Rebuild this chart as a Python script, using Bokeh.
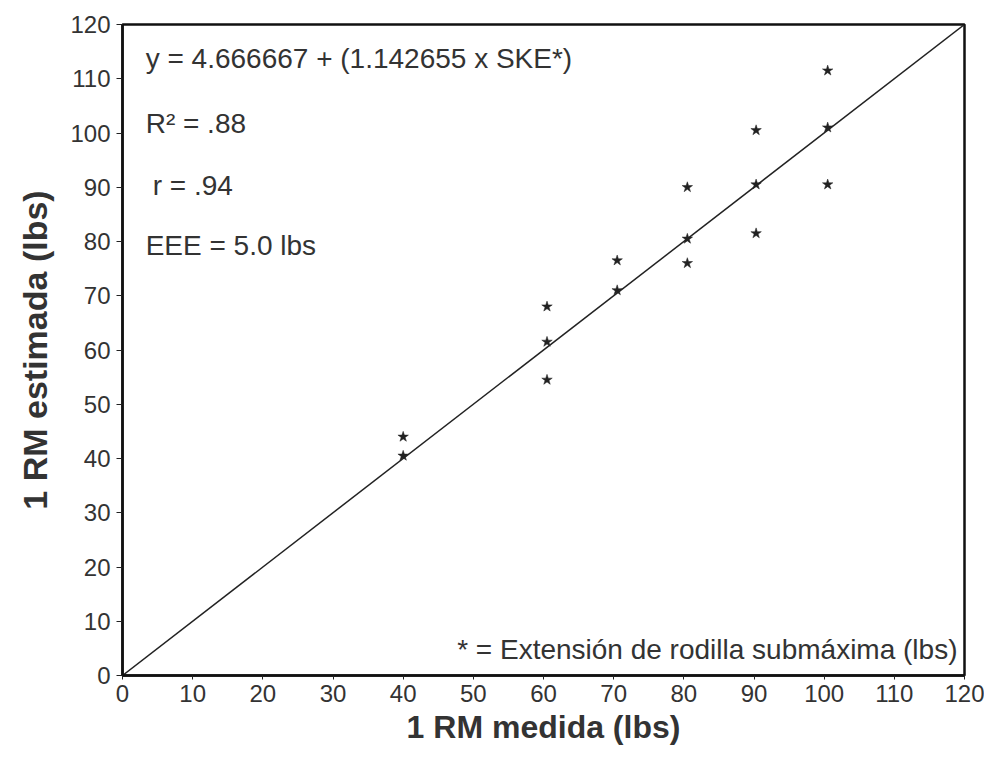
from bokeh.plotting import figure
from bokeh.models import Range1d, FixedTicker, ColumnDataSource, Label
from bokeh.embed import file_html
from bokeh.resources import INLINE

# Data
measured = [40, 40, 60.5, 60.5, 60.5, 70.5, 70.5, 80.5, 80.5, 80.5, 90.3, 90.3, 90.3, 100.5, 100.5, 100.5]
estimated = [44, 40.5, 68, 61.5, 54.5, 76.5, 71, 90, 80.5, 76, 100.5, 90.5, 81.5, 111.5, 101, 90.5]
identity_x = [0, 120]
identity_y = [0, 120]
ticks = [0, 10, 20, 30, 40, 50, 60, 70, 80, 90, 100, 110, 120]

FONT = "Liberation Sans"
TXT = "#333333"

p = figure(width=984, height=747, output_backend="svg", toolbar_location=None,
           x_range=Range1d(0, 120), y_range=Range1d(0, 120),
           min_border_left=122, min_border_right=20, min_border_top=24, min_border_bottom=70)
p.background_fill_color = "white"
p.border_fill_color = "white"
p.outline_line_color = "#111111"
p.outline_line_width = 2.5
p.xgrid.visible = False
p.ygrid.visible = False

for ax in (p.xaxis[0], p.yaxis[0]):
    ax.ticker = FixedTicker(ticks=ticks)
    ax.minor_tick_line_color = None
    ax.major_tick_in = 0
    ax.major_tick_line_color = "#222222"
    ax.major_tick_line_width = 1
    ax.axis_line_color = "#111111"
    ax.axis_line_width = 2.5
    ax.major_label_text_font = FONT
    ax.major_label_text_font_size = "24px"
    ax.major_label_text_color = TXT
    ax.axis_label_text_font = FONT
    ax.axis_label_text_font_style = "bold"
    ax.axis_label_text_color = TXT

p.xaxis.axis_label = "1 RM medida (lbs)"
p.yaxis.axis_label = "1 RM estimada (lbs)"
p.xaxis.axis_label_text_font_size = "32px"
p.yaxis.axis_label_text_font_size = "34px"
p.xaxis.major_tick_out = 4
p.yaxis.major_tick_out = 6
p.xaxis.major_label_standoff = 5
p.yaxis.major_label_standoff = 6
p.xaxis.axis_label_standoff = 4
p.yaxis.axis_label_standoff = 13

p.line(identity_x, identity_y, line_color="#222222", line_width=1.5)

src = ColumnDataSource(dict(x=measured, y=estimated))
p.scatter("x", "y", source=src, marker="star", size=11, fill_color="#222222",
          line_color="#222222", line_width=0.5)

ann = [
    ("y = 4.666667 + (1.142655 x SKE*)", 3.3, 113.7),
    ("R\u00b2 = .88", 3.3, 101.7),
    ("r = .94", 4.3, 90.4),
    ("EEE = 5.0 lbs", 3.3, 79.3),
]
for t, x, y in ann:
    p.add_layout(Label(x=x, y=y, text=t, text_font=FONT, text_font_size="28px",
                       text_color=TXT, text_baseline="middle", text_align="left"))

p.add_layout(Label(x=119.0, y=4.8, text="* = Extensi\u00f3n de rodilla subm\u00e1xima (lbs)",
                   text_font=FONT, text_font_size="28px", text_color=TXT,
                   text_baseline="middle", text_align="right"))

open("out.html", "w").write(file_html(p, INLINE))
